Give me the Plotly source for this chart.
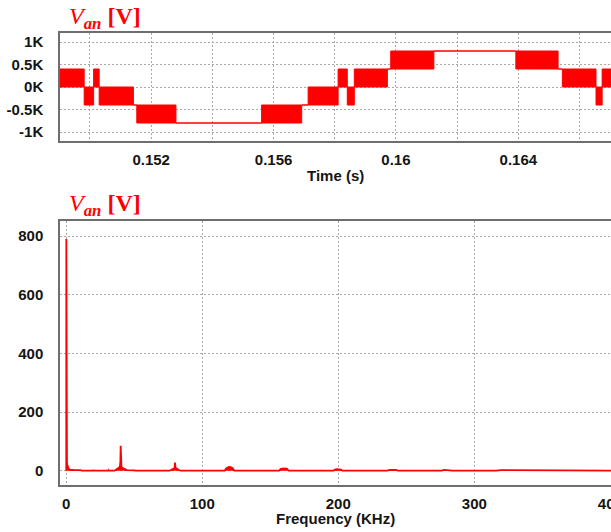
import plotly.graph_objects as go

# ---- Phase voltage Van, time domain (multilevel PWM, 40 kHz carrier) ----
# Switching bands: between edge i and edge i+1 the output toggles between
# the low and high level of that band (equal values = steady level).
band_edges_s = [0.14900, 0.14981, 0.15012, 0.15030, 0.15142, 0.15153, 0.15281,
                0.15561, 0.15692, 0.15713, 0.15811, 0.15841, 0.15864, 0.15972,
                0.15983, 0.16124, 0.16392, 0.16530, 0.16544, 0.16654, 0.16674,
                0.16710]
band_low_v = [0, -400, 0, -400, -400, -800, -800, -800, -400, -400, 0, -400,
              0, 400, 400, 800, 400, 400, 0, -400, 0]
band_high_v = [400, 0, 400, 0, -400, -400, -800, -400, -400, 0, 400, 0,
               400, 400, 800, 800, 800, 400, 400, 0, 400]

time_ticks_s = [0.152, 0.156, 0.160, 0.164]
time_tick_text = ["0.152", "0.156", "0.16", "0.164"]
time_grid_step_s = 0.002
volt_ticks = [-1000, -500, 0, 500, 1000]
volt_tick_text = ["-1K", "-0.5K", "0K", "0.5K", "1K"]

# ---- Harmonic spectrum of Van ----
spec_freq_khz = [
    0.0, 0.05, 0.12, 0.25, 0.5, 0.8, 1.2, 1.8, 2.6, 3.6, 6.0, 10.5, 11.5,
    19.7, 20.0, 20.3, 30.7, 31.0, 31.3,
    35.5, 37.0, 38.5, 39.4, 39.8, 40.0, 40.2, 40.6, 41.5, 43.0, 44.5, 50.0, 51.0,
    76.0, 77.5, 79.0, 79.7, 80.0, 80.3, 81.0, 82.5, 84.0,
    116.5, 117.5, 118.5, 119.5, 120.0, 120.5, 121.5, 122.5, 123.5,
    156.5, 157.5, 158.5, 159.5, 160.5, 161.5, 162.5, 163.5,
    196.5, 197.5, 199.0, 200.5, 202.0, 203.0,
    236.0, 237.5, 239.0, 241.0, 242.5, 244.0,
    276.0, 277.5, 279.0, 281.0, 282.5, 284.0,
    316.0, 317.5, 319.5, 321.5, 323.5, 325.0,
    357.0, 358.5, 360.5, 362.5, 364.0,
    402.0]
spec_mag_v = [
    0, 790, 45, 38, 28, 19, 12, 7, 4, 3, 2, 2, 0,
    0, 3, 0, 0, 2, 0,
    0, 4, 10, 14, 30, 85, 28, 13, 9, 4, 2, 1, 0,
    0, 3, 7, 12, 28, 10, 7, 3, 0,
    0, 8, 11, 13, 12, 13, 11, 8, 0,
    0, 6, 8, 8, 7, 8, 6, 0,
    0, 4, 5, 5, 4, 0,
    0, 3, 3, 3, 3, 0,
    0, 3, 2, 3, 2, 0,
    0, 2, 2, 2, 2, 0,
    0, 2, 1, 2, 0,
    0]
freq_ticks = [0, 100, 200, 300, 400]
mag_ticks = [0, 200, 400, 600, 800]

RED = "#ff0000"
AXIS = "#6e6e6e"
GRID = "#a8a8a8"
TICKFONT = dict(family="Arial, Liberation Sans, sans-serif", size=15,
                color="#151515", weight="bold")

H = 532.0


def py(px):
    """paper y for a pixel row measured from the top"""
    return 1 - px / H


# closed rectangles for every switching band
wx, wy = [], []
for i in range(len(band_low_v)):
    t0, t1 = band_edges_s[i], band_edges_s[i + 1]
    lo, hi = band_low_v[i], band_high_v[i]
    wx += [t0, t1, t1, t0, t0, None]
    wy += [lo, lo, hi, hi, lo, None]

fig = go.Figure()
fig.add_trace(go.Scatter(x=wx, y=wy, mode="lines", fill="toself",
                         fillcolor=RED, line=dict(color=RED, width=1),
                         xaxis="x", yaxis="y", hoverinfo="skip"))
fig.add_trace(go.Scatter(x=spec_freq_khz, y=spec_mag_v, mode="lines",
                         fill="tozeroy", fillcolor=RED,
                         line=dict(color=RED, width=1.8),
                         xaxis="x2", yaxis="y2"))

common_axis = dict(showline=True, linecolor=AXIS, linewidth=1.5,
                   showgrid=True, gridcolor=GRID, gridwidth=1,
                   griddash="2px,2px", zeroline=False, ticks="",
                   tickfont=TICKFONT, automargin=False,
                   ticklabeloverflow="allow")

fig.update_layout(
    width=611, height=532,
    margin=dict(l=60, r=0, t=0, b=0),
    paper_bgcolor="white", plot_bgcolor="white",
    showlegend=False,
    xaxis=dict(common_axis, domain=[0, 1], anchor="y",
               range=[0.14902, 0.16703], mirror=True,
               tickvals=time_ticks_s, ticktext=time_tick_text,
               minor=dict(dtick=time_grid_step_s, tick0=0.150, showgrid=True,
                          gridcolor=GRID, gridwidth=1, griddash="2px,2px",
                          ticks=""),
               ticklabelstandoff=4),
    yaxis=dict(common_axis, domain=[py(141), py(33)], anchor="x",
               range=[-1200, 1200], mirror=False,
               tickvals=volt_ticks, ticktext=volt_tick_text,
               ticklabelstandoff=12),
    xaxis2=dict(common_axis, domain=[0, 1], anchor="y2",
                range=[-4.6, 400.5], mirror=True,
                tickvals=freq_ticks, ticklabelstandoff=4),
    yaxis2=dict(common_axis, domain=[py(485), py(220.7)], anchor="x2",
                range=[-48.7, 852.2], mirror=False,
                tickvals=mag_ticks, ticklabelstandoff=12),
)

title_html = ("<i>V</i><sub><b><i>an</i></b></sub> <b>[V]</b>")
title_font = dict(family="Times New Roman, Liberation Serif, serif",
                  size=24, color=RED)
label_font = dict(family="Arial, Liberation Sans, sans-serif", size=15,
                  color="#151515", weight="bold")

annotations = [
    dict(text=title_html, x=7 / 551, y=py(18), xref="paper", yref="paper",
         xanchor="left", yanchor="middle", showarrow=False, font=title_font),
    dict(text=title_html, x=7 / 551, y=py(205), xref="paper", yref="paper",
         xanchor="left", yanchor="middle", showarrow=False, font=title_font),
    dict(text="Time (s)", x=0.5, y=py(175.5), xref="paper", yref="paper",
         xanchor="center", yanchor="middle", showarrow=False, font=label_font),
    dict(text="Frequency (KHz)", x=0.5, y=py(518.5), xref="paper",
         yref="paper", xanchor="center", yanchor="middle", showarrow=False,
         font=label_font),
]
fig.update_layout(annotations=annotations)

fig.write_html("out.html")
